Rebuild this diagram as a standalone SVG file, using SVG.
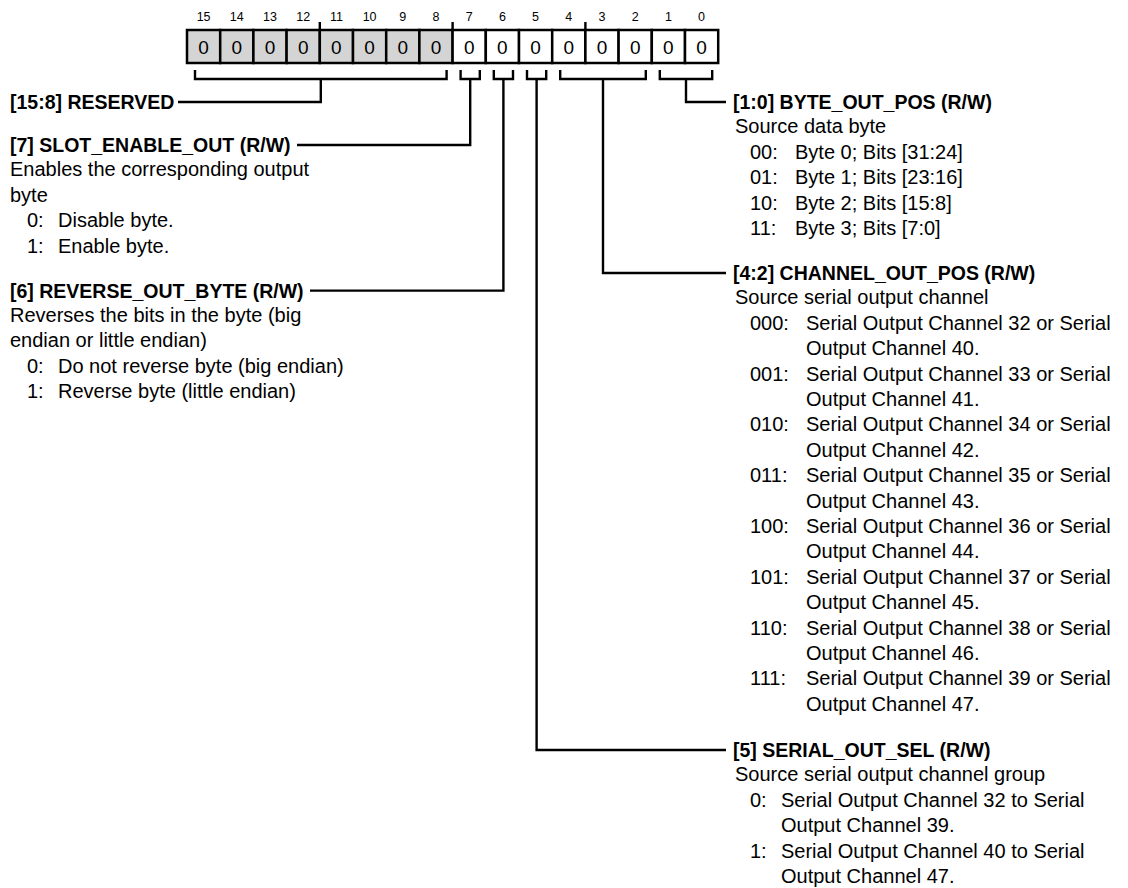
<svg xmlns="http://www.w3.org/2000/svg" width="1128" height="888" viewBox="0 0 1128 888">
<style>
.bn{font-family:"Liberation Sans",Arial,sans-serif;font-size:12.5px;text-anchor:middle;fill:#000}
.cv{font-family:"Liberation Sans",Arial,sans-serif;font-size:19px;text-anchor:middle;fill:#000}
.h{font-family:"Liberation Sans",Arial,sans-serif;font-size:19.5px;font-weight:bold;fill:#000}
.t{font-family:"Liberation Sans",Arial,sans-serif;font-size:20px;fill:#000}
.ln{fill:none;stroke:#000;stroke-width:2.4}
.g{fill:#d4d4d4;stroke:#000;stroke-width:2.5}
.w{fill:#fff;stroke:#000;stroke-width:2.5}
</style>
<rect width="1128" height="888" fill="#fff"/>
<g id="register">
<g class="bn">
<text x="203.6" y="21">15</text><text x="236.8" y="21">14</text><text x="270" y="21">13</text><text x="303.2" y="21">12</text>
<text x="336.4" y="21">11</text><text x="369.6" y="21">10</text><text x="402.8" y="21">9</text><text x="436" y="21">8</text>
<text x="469.2" y="21">7</text><text x="502.4" y="21">6</text><text x="535.6" y="21">5</text><text x="568.8" y="21">4</text>
<text x="602" y="21">3</text><text x="635.2" y="21">2</text><text x="668.4" y="21">1</text><text x="701.6" y="21">0</text>
</g>
<rect class="g" x="187" y="30" width="33.2" height="33"/><rect class="g" x="220.2" y="30" width="33.2" height="33"/>
<rect class="g" x="253.4" y="30" width="33.2" height="33"/><rect class="g" x="286.6" y="30" width="33.2" height="33"/>
<rect class="g" x="319.8" y="30" width="33.2" height="33"/><rect class="g" x="353" y="30" width="33.2" height="33"/>
<rect class="g" x="386.2" y="30" width="33.2" height="33"/><rect class="g" x="419.4" y="30" width="33.2" height="33"/>
<rect class="w" x="452.6" y="30" width="33.2" height="33"/><rect class="w" x="485.8" y="30" width="33.2" height="33"/>
<rect class="w" x="519" y="30" width="33.2" height="33"/><rect class="w" x="552.2" y="30" width="33.2" height="33"/>
<rect class="w" x="585.4" y="30" width="33.2" height="33"/><rect class="w" x="618.6" y="30" width="33.2" height="33"/>
<rect class="w" x="651.8" y="30" width="33.2" height="33"/><rect class="w" x="685" y="30" width="33.2" height="33"/>
<path class="ln" d="M319.8 22V30M452.6 22V30M585.4 22V30"/>
<g class="cv">
<text x="203.6" y="54">0</text><text x="236.8" y="54">0</text><text x="270" y="54">0</text><text x="303.2" y="54">0</text>
<text x="336.4" y="54">0</text><text x="369.6" y="54">0</text><text x="402.8" y="54">0</text><text x="436" y="54">0</text>
<text x="469.2" y="54">0</text><text x="502.4" y="54">0</text><text x="535.6" y="54">0</text><text x="568.8" y="54">0</text>
<text x="602" y="54">0</text><text x="635.2" y="54">0</text><text x="668.4" y="54">0</text><text x="701.6" y="54">0</text>
</g>
</g>
<g id="connectors" class="ln">
<path d="M195 70V79H446.6V70M320.8 79V102H178"/>
<path d="M460.6 70V79H479.8V70M470.2 79V145H297"/>
<path d="M493.8 70V79H513V70M503.4 79V290.6H310"/>
<path d="M527 70V79H546.2V70M536.6 79V750H726"/>
<path d="M560.2 70V79H645.8V70M603 79V273H726"/>
<path d="M659.8 70V79H712.2V70M686 79V102H726"/>
</g>
<g id="f15_8">
<text class="h" x="10" y="109">[15:8] RESERVED</text>
</g>
<g id="f7">
<text class="h" x="10" y="152">[7] SLOT_ENABLE_OUT (R/W)</text>
<text class="t" x="10" y="176.4">Enables the corresponding output</text>
<text class="t" x="10" y="201.8">byte</text>
<text class="t" x="27" y="227.2">0:</text><text class="t" x="58" y="227.2">Disable byte.</text>
<text class="t" x="27" y="252.6">1:</text><text class="t" x="58" y="252.6">Enable byte.</text>
</g>
<g id="f6">
<text class="h" x="10" y="297.6">[6] REVERSE_OUT_BYTE (R/W)</text>
<text class="t" x="10" y="322">Reverses the bits in the byte (big</text>
<text class="t" x="10" y="347.4">endian or little endian)</text>
<text class="t" x="27" y="372.8">0:</text><text class="t" x="58" y="372.8">Do not reverse byte (big endian)</text>
<text class="t" x="27" y="398.2">1:</text><text class="t" x="58" y="398.2">Reverse byte (little endian)</text>
</g>
<g id="f1_0">
<text class="h" x="733" y="109">[1:0] BYTE_OUT_POS (R/W)</text>
<text class="t" x="735" y="133.4">Source data byte</text>
<text class="t" x="750" y="158.8">00:</text><text class="t" x="795" y="158.8">Byte 0; Bits [31:24]</text>
<text class="t" x="750" y="184.2">01:</text><text class="t" x="795" y="184.2">Byte 1; Bits [23:16]</text>
<text class="t" x="750" y="209.6">10:</text><text class="t" x="795" y="209.6">Byte 2; Bits [15:8]</text>
<text class="t" x="750" y="235">11:</text><text class="t" x="795" y="235">Byte 3; Bits [7:0]</text>
</g>
<g id="f4_2">
<text class="h" x="733" y="280">[4:2] CHANNEL_OUT_POS (R/W)</text>
<text class="t" x="735" y="304.4">Source serial output channel</text>
<text class="t" x="750" y="329.8">000:</text><text class="t" x="806" y="329.8">Serial Output Channel 32 or Serial</text>
<text class="t" x="806" y="355.2">Output Channel 40.</text>
<text class="t" x="750" y="380.6">001:</text><text class="t" x="806" y="380.6">Serial Output Channel 33 or Serial</text>
<text class="t" x="806" y="406">Output Channel 41.</text>
<text class="t" x="750" y="431.4">010:</text><text class="t" x="806" y="431.4">Serial Output Channel 34 or Serial</text>
<text class="t" x="806" y="456.8">Output Channel 42.</text>
<text class="t" x="750" y="482.2">011:</text><text class="t" x="806" y="482.2">Serial Output Channel 35 or Serial</text>
<text class="t" x="806" y="507.6">Output Channel 43.</text>
<text class="t" x="750" y="533">100:</text><text class="t" x="806" y="533">Serial Output Channel 36 or Serial</text>
<text class="t" x="806" y="558.4">Output Channel 44.</text>
<text class="t" x="750" y="583.8">101:</text><text class="t" x="806" y="583.8">Serial Output Channel 37 or Serial</text>
<text class="t" x="806" y="609.2">Output Channel 45.</text>
<text class="t" x="750" y="634.6">110:</text><text class="t" x="806" y="634.6">Serial Output Channel 38 or Serial</text>
<text class="t" x="806" y="660">Output Channel 46.</text>
<text class="t" x="750" y="685.4">111:</text><text class="t" x="806" y="685.4">Serial Output Channel 39 or Serial</text>
<text class="t" x="806" y="710.8">Output Channel 47.</text>
</g>
<g id="f5">
<text class="h" x="733" y="757">[5] SERIAL_OUT_SEL (R/W)</text>
<text class="t" x="735" y="781.4">Source serial output channel group</text>
<text class="t" x="750" y="806.8">0:</text><text class="t" x="781" y="806.8">Serial Output Channel 32 to Serial</text>
<text class="t" x="781" y="832.2">Output Channel 39.</text>
<text class="t" x="750" y="857.6">1:</text><text class="t" x="781" y="857.6">Serial Output Channel 40 to Serial</text>
<text class="t" x="781" y="883">Output Channel 47.</text>
</g>
</svg>
